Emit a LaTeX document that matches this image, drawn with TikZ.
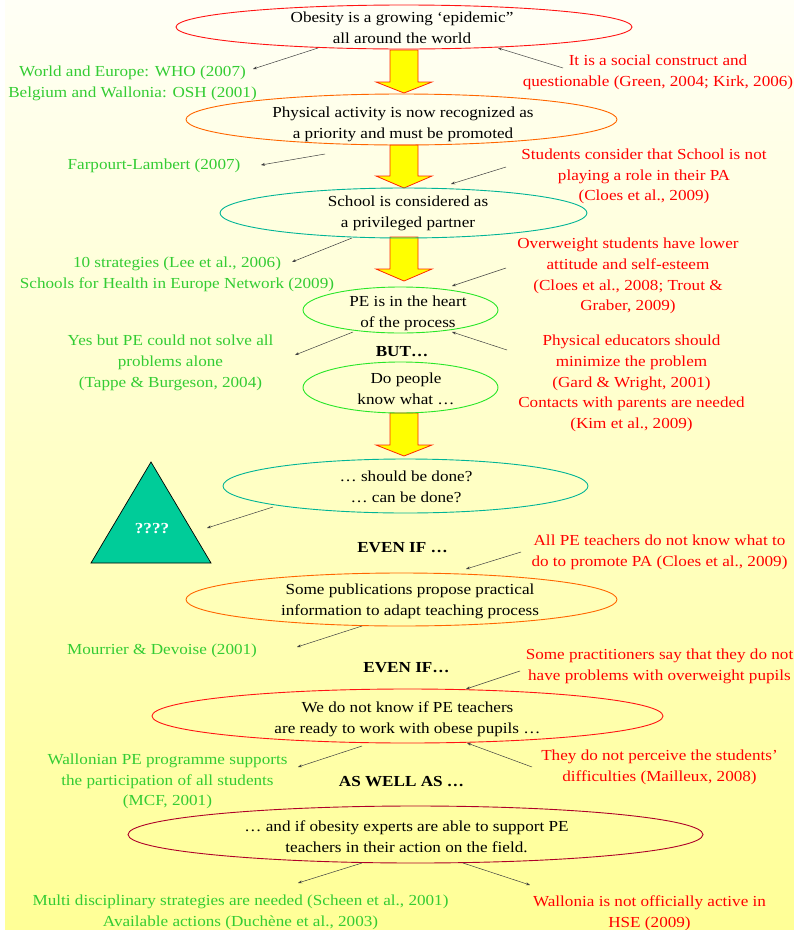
\documentclass[tikz,border=0pt]{standalone}
\usepackage{fontspec}
\setmainfont{Liberation Serif}[FakeStretch=1.12]
\usetikzlibrary{shapes.geometric,arrows.meta}
\definecolor{gtext}{RGB}{51,204,51}
\definecolor{rtext}{RGB}{255,0,0}
\definecolor{ered}{RGB}{255,20,20}
\definecolor{eorange}{RGB}{255,102,0}
\definecolor{eteal}{RGB}{0,180,150}
\definecolor{egreen}{RGB}{40,230,40}
\definecolor{ecrimson}{RGB}{175,0,40}
\definecolor{tri}{RGB}{0,204,153}
\definecolor{arrfill}{RGB}{255,255,0}
\definecolor{arrline}{RGB}{255,40,0}
\definecolor{bgtop}{RGB}{255,255,246}
\definecolor{bgbot}{RGB}{255,255,150}
\newcommand\yarrow[4]{% cx, ytop, yhead, ytip
  \filldraw[yarr] (#1-14,#2) -- (#1+14,#2) -- (#1+14,#3) -- (#1+28,#3) -- (#1,#4) -- (#1-28,#3) -- (#1-14,#3) -- cycle;}
\begin{document}
\begin{tikzpicture}[x=1pt,y=-1pt,
  every node/.style={font=\fontsize{15.3}{20.7}\selectfont, inner sep=0pt, align=center},
  ell/.style={ellipse, draw=#1, line width=0.9pt},
  gnote/.style={text=gtext},
  rnote/.style={text=rtext},
  blab/.style={font=\fontsize{15.3}{20.7}\selectfont\bfseries},
  conn/.style={draw=black!75, line width=0.5pt, -{Stealth[length=4pt,width=3pt]}},
  yarr/.style={fill=arrfill, draw=arrline, line width=0.8pt, line join=miter}]
\useasboundingbox (0,0) rectangle (794,930);
\fill[top color=bgtop, bottom color=bgbot] (0,0) rectangle (794,930);
\fill[white] (0,0) rectangle (5,930);

% block arrows
\yarrow{404}{50}{82}{93}
\yarrow{404}{145}{176}{188}
\yarrow{404}{237}{269}{281}
\yarrow{404}{413}{445}{456}

% ellipses
\node[ell=ered, minimum width=456, minimum height=44] (E1) at (404,27) {};
\node[ell=eorange, minimum width=431, minimum height=51] (E2) at (401.5,119.5) {};
\node[ell=eteal, minimum width=367, minimum height=50] (E3) at (403.5,213) {};
\node[ell=egreen, minimum width=195, minimum height=46] (E4) at (400.5,310) {};
\node[ell=egreen, minimum width=195, minimum height=51] (E5) at (400.5,387.5) {};
\node[ell=eteal, minimum width=365, minimum height=54] (E6) at (405.5,486) {};
\node[ell=eorange, minimum width=431, minimum height=53] (E7) at (401.5,599.5) {};
\node[ell=ered, minimum width=511, minimum height=54] (E8) at (407.5,716) {};
\node[ell=ecrimson, minimum width=575, minimum height=57] (E9) at (415.5,834.5) {};

% ellipse texts
\node (T1) at (402,28) {Obesity is a growing ‘epidemic”\\all around the world};
\node (T2) at (403,124) {Physical activity is now recognized as\\a priority and must be promoted};
\node (T3) at (408,213) {School is considered as\\a privileged partner};
\node (T4) at (408,313) {PE is in the heart\\of the process};
\node (T5) at (406,389) {Do people\\know what …};
\node (T6) at (406,487) {… should be done?\\… can be done?};
\node (T7) at (410,601) {Some publications propose practical\\information to adapt teaching process};
\node (T8) at (407.5,719) {We do not know if PE teachers\\are ready to work with obese pupils …};
\node (T9) at (406.5,837) {… and if obesity experts are able to support PE\\teachers in their action on the field.};

% bold labels
\node[blab] (L1) at (402,352) {BUT…};
\node[blab] (L2) at (402.5,548) {EVEN IF …};
\node[blab] (L3) at (406.5,668) {EVEN IF…};
\node[blab] (L4) at (401.5,782) {AS WELL AS …};

% triangle
\filldraw[fill=tri, draw=black, line width=0.7pt] (151,462) -- (211,563) -- (91,563) -- cycle;
\node[text=white, font=\fontsize{15.3}{17}\selectfont\bfseries] (Q) at (152,529) {????};

% annotations
\node[gnote] (G1) at (132.5,83) {World and Europe: WHO (2007)\\Belgium and Wallonia: OSH (2001)};
\node[rnote] (R1) at (658,72) {It is a social construct and\\questionable (Green, 2004; Kirk, 2006)};
\node[gnote] (G2) at (154,166) {Farpourt-Lambert (2007)};
\node[rnote] (R2) at (644,176.5) {Students consider that School is not\\playing a role in their PA\\(Cloes et al., 2009)};
\node[gnote] (G3) at (177,274) {10 strategies (Lee et al., 2006)\\Schools for Health in Europe Network (2009)};
\node[rnote] (R3) at (628,276) {Overweight students have lower\\attitude and self-esteem\\(Cloes et al., 2008; Trout \&\\Graber, 2009)};
\node[gnote] (G4) at (170.5,363) {Yes but PE could not solve all\\problems alone\\(Tappe \& Burgeson, 2004)};
\node[rnote] (R4) at (631.5,383.5) {Physical educators should\\minimize the problem\\(Gard \& Wright, 2001)\\Contacts with parents are needed\\(Kim et al., 2009)};
\node[rnote] (R5) at (659.5,552.5) {All PE teachers do not know what to\\do to promote PA (Cloes et al., 2009)};
\node[gnote] (G5) at (162,651) {Mourrier \& Devoise (2001)};
\node[rnote] (R6) at (659.5,666.5) {Some practitioners say that they do not\\have problems with overweight pupils};
\node[gnote] (G6) at (167.5,781.5) {Wallonian PE programme supports\\the participation of all students\\(MCF, 2001)};
\node[rnote] (R7) at (659.5,767) {They do not perceive the students’\\difficulties (Mailleux, 2008)};
\node[gnote] (G7) at (240.5,912) {Multi disciplinary strategies are needed (Scheen et al., 2001)\\Available actions (Duchène et al., 2003)};
\node[rnote] (R8) at (649.5,913) {Wallonia is not officially active in\\HSE (2009)};

% connector end points
\coordinate (a1s) at (318,48);  \coordinate (a1e) at (253,69);
\coordinate (a2s) at (563,68);  \coordinate (a2e) at (498,48);
\coordinate (a3s) at (325,154); \coordinate (a3e) at (261,165);
\coordinate (a4s) at (506,167); \coordinate (a4e) at (451,184);
\coordinate (a5s) at (352,238); \coordinate (a5e) at (292,262);
\coordinate (a6s) at (506,268); \coordinate (a6e) at (452,286);
\coordinate (a7s) at (353,332); \coordinate (a7e) at (295,355);
\coordinate (a8s) at (507,350); \coordinate (a8e) at (452,332);
\coordinate (a9s) at (273,507); \coordinate (a9e) at (207,528);
\coordinate (a10s) at (521,552); \coordinate (a10e) at (466,569);
\coordinate (a11s) at (362,626); \coordinate (a11e) at (297,647);
\coordinate (a12s) at (520,671); \coordinate (a12e) at (466,689);
\coordinate (a13s) at (362,746); \coordinate (a13e) at (298,767);
\coordinate (a14s) at (532,767); \coordinate (a14e) at (467,743);
\coordinate (a15s) at (362,863); \coordinate (a15e) at (298,883);
\coordinate (a16s) at (463,863); \coordinate (a16e) at (530,885);
\foreach \i in {1,...,16} {\draw[conn] (a\i s) -- (a\i e);}
\end{tikzpicture}
\end{document}
